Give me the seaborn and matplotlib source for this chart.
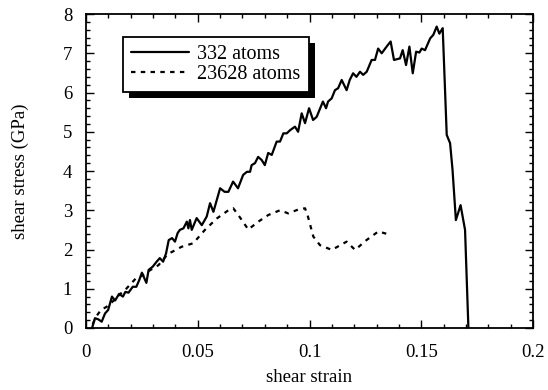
import matplotlib
matplotlib.use('Agg')
import matplotlib.pyplot as plt
from matplotlib.ticker import MultipleLocator, FixedLocator, FixedFormatter
from matplotlib.patches import Rectangle
import seaborn as sns
import pandas as pd

# ---------------- data ----------------
series_names = ['332 atoms', '23628 atoms']

strain_332 = [0.0027, 0.004, 0.0055, 0.007, 0.0085, 0.0099, 0.0116, 0.013, 0.0148,
              0.0165, 0.0176, 0.019, 0.0209, 0.0225, 0.0238, 0.025, 0.027, 0.028,
              0.0298, 0.0316, 0.033, 0.0345, 0.0358, 0.037, 0.0385, 0.0398, 0.041,
              0.042, 0.0436, 0.0451, 0.0458, 0.0465, 0.0473, 0.0495, 0.0518, 0.054,
              0.0555, 0.057, 0.060, 0.062, 0.0637, 0.0658, 0.068, 0.0703, 0.072,
              0.0734, 0.0741, 0.0756, 0.077, 0.0786, 0.080, 0.0815, 0.0831, 0.0853,
              0.0868, 0.0883, 0.0898, 0.0913, 0.0935, 0.0949, 0.0965, 0.098, 0.0998,
              0.1016, 0.1032, 0.106, 0.1074, 0.1083, 0.1099, 0.1114, 0.1128, 0.1144,
              0.1166, 0.118, 0.1195, 0.121, 0.1226, 0.124, 0.1256, 0.1278, 0.1293,
              0.1307, 0.1323, 0.1345, 0.1363, 0.1378, 0.1405, 0.1417, 0.1432, 0.1447,
              0.1462, 0.1477, 0.1492, 0.1502, 0.1517, 0.154, 0.1554, 0.1569, 0.1581,
              0.1596, 0.1614, 0.1629, 0.164, 0.1655, 0.1676, 0.1696, 0.1711]
stress_332 = [0.0, 0.25, 0.22, 0.16, 0.37, 0.46, 0.8, 0.7, 0.87,
              0.8, 0.92, 0.9, 1.05, 1.05, 1.22, 1.41, 1.15, 1.48,
              1.56, 1.69, 1.78, 1.69, 1.9, 2.24, 2.29, 2.2, 2.42,
              2.5, 2.54, 2.71, 2.54, 2.75, 2.5, 2.8, 2.62, 2.84,
              3.18, 2.96, 3.56, 3.47, 3.47, 3.73, 3.56, 3.9, 3.98,
              3.98, 4.15, 4.2, 4.36, 4.28, 4.15, 4.46, 4.41, 4.75,
              4.75, 4.96, 4.96, 5.04, 5.13, 5.0, 5.47, 5.22, 5.6,
              5.3, 5.38, 5.77, 5.6, 5.77, 5.85, 6.06, 6.11, 6.32,
              6.06, 6.32, 6.49, 6.4, 6.53, 6.45, 6.53, 6.83, 6.83,
              7.12, 7.0, 7.17, 7.3, 6.83, 6.87, 7.08, 6.7, 7.17,
              6.49, 7.04, 7.02, 7.12, 7.08, 7.38, 7.47, 7.68, 7.5,
              7.64, 4.92, 4.71, 4.03, 2.75, 3.13, 2.5, 0.0]

strain_23628 = [0.003, 0.0045, 0.0067, 0.0092, 0.012, 0.015, 0.018, 0.0224, 0.025,
                0.028, 0.0324, 0.0365, 0.0428, 0.048, 0.0532, 0.0585, 0.0637, 0.0659,
                0.0686, 0.0726, 0.0771, 0.0816, 0.0868, 0.0905, 0.095, 0.098, 0.0993,
                0.1017, 0.1047, 0.11, 0.1166, 0.1204, 0.1255, 0.1308, 0.1345]
stress_23628 = [0.1, 0.29, 0.46, 0.54, 0.68, 0.85, 1.0, 1.27, 1.33,
                1.45, 1.6, 1.88, 2.07, 2.16, 2.5, 2.79, 3.0, 3.05,
                2.84, 2.51, 2.71, 2.88, 3.0, 2.92, 3.02, 3.05, 2.84,
                2.33, 2.11, 1.99, 2.2, 1.99, 2.24, 2.46, 2.4]

x_ticks = [0, 0.05, 0.1, 0.15, 0.2]
x_tick_labels = ['0', '0.05', '0.1', '0.15', '0.2']
y_ticks = [0, 1, 2, 3, 4, 5, 6, 7, 8]
y_tick_labels = ['0', '1', '2', '3', '4', '5', '6', '7', '8']

df = pd.concat([
    pd.DataFrame({'strain': strain_332, 'stress': stress_332, 'series': series_names[0]}),
    pd.DataFrame({'strain': strain_23628, 'stress': stress_23628, 'series': series_names[1]}),
], ignore_index=True)

# ---------------- style ----------------
sns.set_style('ticks')
plt.rcParams['font.family'] = ['Liberation Serif', 'DejaVu Serif']

fig = plt.figure(figsize=(5.48, 3.9), dpi=100)
ax = fig.add_axes([0.157, 0.159, 0.8156, 0.805])

sns.lineplot(data=df, x='strain', y='stress', hue='series', style='series',
             hue_order=series_names, style_order=series_names,
             palette=['black', 'black'],
             dashes={series_names[0]: '', series_names[1]: (2, 2.4)},
             linewidth=1.6, sort=False, estimator=None, legend=False, ax=ax)

ax.set_xlim(0, 0.2)
ax.set_ylim(0, 8)
ax.xaxis.set_major_locator(FixedLocator(x_ticks))
ax.xaxis.set_major_formatter(FixedFormatter(x_tick_labels))
ax.yaxis.set_major_locator(FixedLocator(y_ticks))
ax.yaxis.set_major_formatter(FixedFormatter(y_tick_labels))
ax.xaxis.set_minor_locator(MultipleLocator(0.01))
ax.yaxis.set_minor_locator(MultipleLocator(0.2))
ax.tick_params(which='both', direction='in', top=True, right=True,
               color='black', width=1.0, labelsize=13.5, labelcolor='black')
ax.tick_params(which='major', length=5.5)
ax.tick_params(which='minor', length=3)
ax.tick_params(axis='x', which='major', pad=11.5)
ax.tick_params(axis='y', which='major', pad=10)
for s in ax.spines.values():
    s.set_linewidth(1.3)
    s.set_color('black')

ax.set_xlabel('shear strain', fontsize=13.5, labelpad=6, color='black')
ax.set_ylabel('shear stress (GPa)', fontsize=13.5, labelpad=24, color='black')

leg = ax.legend(handles=ax.lines[:2], labels=series_names, loc='upper left',
                bbox_to_anchor=(0.082, 0.926), borderaxespad=0, frameon=True,
                fancybox=False, edgecolor='black', facecolor='white', framealpha=1,
                fontsize=14.5, handlelength=2.9, handletextpad=0.4,
                borderpad=0.4, labelspacing=0.02)
leg.get_frame().set_linewidth(1.3)
for t in leg.get_texts():
    t.set_color('black')

# hard black drop shadow behind the legend box
fig.canvas.draw()
bb = leg.get_window_extent()
inv = ax.transAxes.inverted()
(x0, y0) = inv.transform((bb.x0 + 6, bb.y0 - 6))
(x1, y1) = inv.transform((bb.x1 + 6, bb.y1 - 6))
ax.add_patch(Rectangle((x0, y0), x1 - x0, y1 - y0, transform=ax.transAxes,
                       facecolor='black', edgecolor='none', zorder=4.9, clip_on=False))

fig.savefig('out.png', dpi=100)
